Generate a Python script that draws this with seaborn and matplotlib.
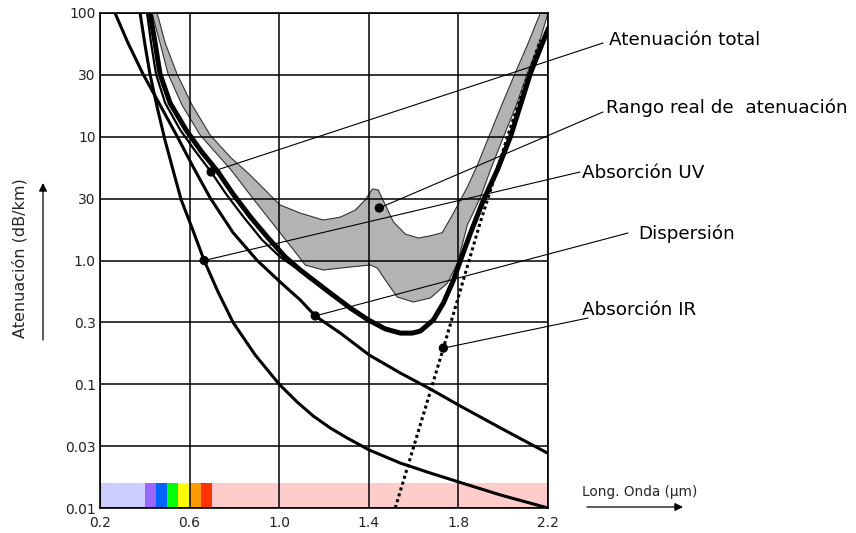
import numpy as np
import seaborn as sns
import matplotlib.pyplot as plt

# y axis: half-decade ticks drawn equally spaced (as in the original figure)
y_ticks = [0.01, 0.03, 0.1, 0.3, 1, 3, 10, 30, 100]
y_tick_labels = ["0.01", "0.03", "0.1", "0.3", "1.0", "30", "10", "30", "100"]
x_ticks = [0.2, 0.6, 1.0, 1.4, 1.8, 2.2]

# Absorción UV
uv_x = [0.379, 0.401, 0.423, 0.455, 0.490, 0.526, 0.562, 0.611, 0.665, 0.727, 0.794, 0.893, 1.0,
        1.080, 1.152, 1.228, 1.304, 1.402, 1.541, 1.675, 1.8, 1.988, 2.2]
uv_y = [100, 53.7, 30.5, 16.96, 9.38, 5.24, 2.95, 1.78, 1.0, 0.542, 0.3, 0.168, 0.1,
        0.0708, 0.0539, 0.0427, 0.0351, 0.0280, 0.0222, 0.0186, 0.0159, 0.0126, 0.01]

# Dispersión
disp_x = [0.267, 0.325, 0.392, 0.468, 0.544, 0.616, 0.692, 0.794, 0.902, 1.004, 1.094, 1.161,
          1.273, 1.402, 1.541, 1.675, 1.8, 1.988, 2.198]
disp_y = [100, 55.8, 30.5, 17.57, 10.1, 5.55, 3.04, 1.64, 1.0, 0.659, 0.464, 0.34,
          0.248, 0.168, 0.122, 0.0911, 0.0668, 0.0427, 0.0265]

# thin curve running beside the total attenuation
thin_x = [0.410, 0.428, 0.450, 0.491, 0.558, 0.625, 0.696, 0.763, 0.844, 0.924, 1.004, 1.076]
thin_y = [100, 55.8, 30.5, 18.2, 11.3, 7.58, 5.04, 3.28, 2.13, 1.44, 1.064, 0.864]

# Atenuación total
tot_x = [0.423, 0.446, 0.468, 0.513, 0.584, 0.651, 0.727, 0.794, 0.875, 0.951, 1.027, 1.094,
         1.228, 1.317, 1.398, 1.474, 1.541, 1.594, 1.630, 1.688, 1.733, 1.778, 1.809, 1.854,
         1.912, 1.974, 2.032, 2.122, 2.202]
tot_y = [100, 55.8, 30.5, 18.2, 11.3, 7.58, 5.04, 3.28, 2.13, 1.49, 1.064, 0.831,
         0.531, 0.397, 0.314, 0.267, 0.248, 0.248, 0.257, 0.314, 0.437, 0.684, 1.0, 1.63,
         2.93, 5.24, 9.95, 31.1, 74.7]

# Absorción IR
ir_x = [1.518, 1.733, 1.898, 2.032, 2.166]
ir_y = [0.01, 0.190, 1.98, 11.7, 59.2]

# Rango real de atenuación (band)
band_up_x = [0.455, 0.491, 0.544, 0.611, 0.692, 0.781, 0.870, 1.004, 1.094, 1.197, 1.273, 1.340,
             1.384, 1.416, 1.442, 1.474, 1.510, 1.563, 1.621, 1.675, 1.728, 1.778, 1.840, 1.885,
             1.930, 1.988, 2.046, 2.108, 2.166, 2.2]
band_up_y = [100, 55.8, 30.5, 17.57, 10.3, 6.75, 4.75, 2.68, 2.32, 2.05, 2.16, 2.45,
             2.93, 3.62, 3.55, 2.68, 1.98, 1.60, 1.49, 1.55, 1.64, 2.32, 3.76, 5.77,
             9.38, 16.67, 28.9, 53.7, 100, 100]
band_lo_x = [0.432, 0.468, 0.504, 0.566, 0.647, 0.785, 0.888, 0.987, 1.072, 1.116, 1.197, 1.317,
             1.407, 1.438, 1.483, 1.527, 1.599, 1.675, 1.751, 1.796, 1.840, 1.899, 1.943, 2.001,
             2.059, 2.108, 2.158, 2.2]
band_lo_y = [100, 55.8, 30.5, 17.57, 10.3, 5.24, 2.93, 1.78, 1.16, 0.916, 0.831, 0.881,
             0.916, 0.864, 0.645, 0.491, 0.446, 0.482, 0.645, 0.953, 1.88, 3.09, 5.24, 9.95,
             17.57, 31.1, 53.7, 100]

# spectrum strip along the bottom
spec_edges = [0.2, 0.40, 0.45, 0.50, 0.55, 0.60, 0.65, 0.70, 2.2]
spec_colors = ["#CCCCFF", "#9966FF", "#0066FF", "#00FF00", "#FFFF00", "#FF9900", "#FF3300", "#FFCCCC"]
spec_top = [0.0157, 0.0155, 0.0155, 0.0155, 0.0155, 0.0155, 0.0155, 0.0157]

# labelled points
dot_names = ["Atenuación total", "Rango real de  atenuación", "Absorción UV", "Dispersión", "Absorción IR"]
dot_x = [0.696, 1.447, 0.665, 1.161, 1.733]
dot_y = [5.04, 2.54, 1.0, 0.34, 0.190]

sns.set_theme(style="white")
plt.rcParams["font.family"] = ["DejaVu Sans"]

LOGT = np.log10(y_ticks)
POS = np.arange(len(y_ticks))


def fwd(v):
    return np.interp(np.log10(np.clip(v, 1e-9, None)), LOGT, POS)


def inv(p):
    return 10 ** np.interp(p, POS, LOGT)


fig = plt.figure(figsize=(8.56, 5.33), dpi=100)
ax = fig.add_axes([100 / 856, 1 - 508 / 533, 448 / 856, 495 / 533])
ax.set_yscale("function", functions=(fwd, inv))
ax.set_xlim(0.2, 2.2)
ax.set_ylim(0.01, 100)

# spectrum
widths = np.diff(spec_edges)
ax.bar(spec_edges[:-1], np.array(spec_top) - 0.01, width=widths, bottom=0.01, align="edge",
       color=spec_colors, linewidth=0, zorder=1)

# band
ax.fill(band_up_x + band_lo_x[::-1], band_up_y + band_lo_y[::-1], facecolor="#B3B3B3",
        edgecolor="#333333", linewidth=0.8, zorder=1)

ax.set_xticks(x_ticks)
ax.set_yticks(y_ticks)
ax.set_yticklabels(y_tick_labels)
ax.set_axisbelow(False)
ax.grid(True, color="black", linewidth=1.1)
ax.tick_params(axis="both", length=0, labelsize=10, labelcolor="#222222")
ax.tick_params(axis="x", pad=6)
ax.tick_params(axis="y", pad=3)
for s in ax.spines.values():
    s.set_color("black")
    s.set_linewidth(1.2)

sns.lineplot(x=uv_x, y=uv_y, sort=False, estimator=None, color="black", linewidth=2.2, ax=ax, zorder=3)
sns.lineplot(x=disp_x, y=disp_y, sort=False, estimator=None, color="black", linewidth=2.2, ax=ax, zorder=3)
sns.lineplot(x=thin_x, y=thin_y, sort=False, estimator=None, color="black", linewidth=1.6, ax=ax, zorder=3)
sns.lineplot(x=tot_x, y=tot_y, sort=False, estimator=None, color="black", linewidth=3.6, ax=ax, zorder=3)
ax.plot(ir_x, ir_y, color="black", linewidth=2.2, linestyle=(0, (1, 1)), zorder=3)

sns.scatterplot(x=dot_x, y=dot_y, color="black", s=45, edgecolor="none", ax=ax, zorder=5)

# leader lines and labels (figure pixels from the top-left)
line_ends = [(603, 43), (603, 112), (580, 172), (628, 233), (588, 318)]
text_pos = [(609, 40), (606, 108), (582, 173), (638, 234), (582, 310)]
for i, name in enumerate(dot_names):
    ex, ey = line_ends[i]
    ax.annotate("", xy=(dot_x[i], dot_y[i]), xycoords="data",
                xytext=(ex / 856, 1 - ey / 533), textcoords="figure fraction",
                arrowprops=dict(arrowstyle="-", color="black", lw=0.8, shrinkA=0, shrinkB=0),
                annotation_clip=False)
    tx, ty = text_pos[i]
    fig.text(tx / 856, 1 - ty / 533, name, ha="left", va="center", fontsize=13.2, color="black")

fig.text(582 / 856, 1 - 492 / 533, "Long. Onda (µm)", ha="left", va="center", fontsize=9.8)
fig.add_artist(plt.Annotation("", xy=(683 / 856, 1 - 507 / 533), xycoords="figure fraction",
                              xytext=(587 / 856, 1 - 507 / 533), textcoords="figure fraction",
                              arrowprops=dict(arrowstyle="-|>", color="black", lw=0.9,
                                              mutation_scale=12, shrinkA=0, shrinkB=0)))

fig.text(20 / 856, 1 - 258 / 533, "Atenuación (dB/km)", rotation=90, ha="center", va="center",
         fontsize=11.5)
fig.add_artist(plt.Annotation("", xy=(43 / 856, 1 - 183 / 533), xycoords="figure fraction",
                              xytext=(43 / 856, 1 - 340 / 533), textcoords="figure fraction",
                              arrowprops=dict(arrowstyle="-|>", color="black", lw=0.9,
                                              mutation_scale=12, shrinkA=0, shrinkB=0)))

fig.savefig("out.png", dpi=100)
